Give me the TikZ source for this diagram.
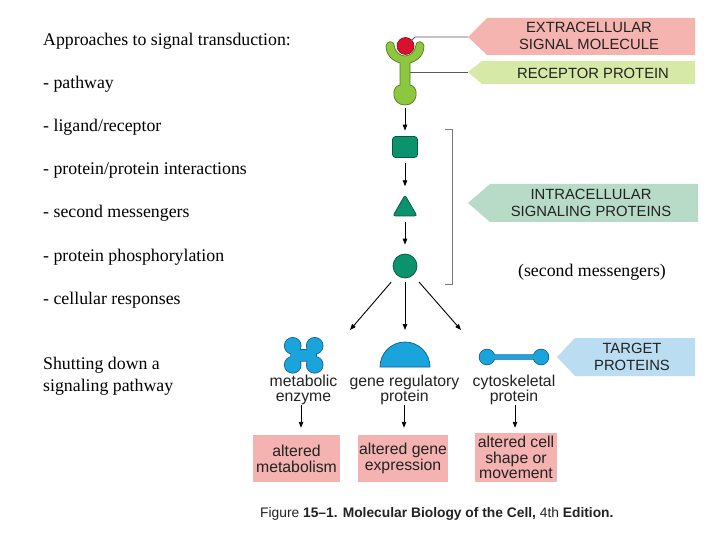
\documentclass[tikz,border=0pt]{standalone}
\usepackage{fontspec}
\setmainfont{Liberation Serif}
\setsansfont{Liberation Sans}
\usetikzlibrary{arrows.meta,shapes.geometric}
\definecolor{exred}{HTML}{F5B4B0}
\definecolor{recgreen}{HTML}{D6E9A6}
\definecolor{intgreen}{HTML}{B7DBC7}
\definecolor{tgtblue}{HTML}{BBDDF2}
\definecolor{boxpink}{HTML}{F4B3B1}
\definecolor{rfill}{HTML}{8DC63F}
\definecolor{rline}{HTML}{4E7D22}
\definecolor{ligred}{HTML}{D9112D}
\definecolor{ligline}{HTML}{8A0A18}
\definecolor{sigteal}{HTML}{0A936C}
\definecolor{sigtealline}{HTML}{05573F}
\definecolor{pblue}{HTML}{1BA3DC}
\definecolor{pbline}{HTML}{0E5E8A}
\definecolor{linegray}{HTML}{5A5A5A}
\definecolor{labtext}{HTML}{222222}
\begin{document}
\begin{tikzpicture}[x=1pt,y=-1pt,
  arr/.style={-{Triangle[length=6pt,width=4.5pt]}, line width=0.9pt, black},
  conn/.style={draw=linegray, line width=0.9pt},
  lefttxt/.style={anchor=base west, inner sep=0pt, font=\fontsize{17.8}{20}\selectfont},
  caplab/.style={inner sep=0pt, align=center, text=labtext, font=\sffamily\fontsize{14.8}{16.6}\selectfont},
  protlab/.style={inner sep=0pt, align=center, text=labtext, font=\sffamily\fontsize{15.8}{15.7}\selectfont},
  respbox/.style={fill=boxpink, inner sep=0pt, align=center, text=labtext, font=\sffamily\fontsize{15.8}{15.7}\selectfont},
  tealshape/.style={fill=sigteal, draw=sigtealline, line width=0.7pt},
]
\useasboundingbox (0,0) rectangle (720,540);
\fill[white] (0,0) rectangle (720,540);

% ---- left text ----
\node[lefttxt] (t1) at (43,46) {Approaches to signal transduction:};
\node[lefttxt] (t2) at (43,89) {- pathway};
\node[lefttxt] (t3) at (43,132) {- ligand/receptor};
\node[lefttxt] (t4) at (43,175) {- protein/protein interactions};
\node[lefttxt] (t5) at (43,218) {- second messengers};
\node[lefttxt] (t6) at (43,261) {- protein phosphorylation};
\node[lefttxt] (t7) at (43,304) {- cellular responses};
\node[lefttxt] (t8) at (43,369) {Shutting down a};
\node[lefttxt] (t9) at (43,391) {signaling pathway};

% ---- pointer labels ----
\fill[exred] (468,37) -- (487,18) -- (695,18) -- (695,55) -- (487,55) -- cycle;
\coordinate (exTip) at (468,37);
\node[caplab] (exT) at (589,36) {EXTRACELLULAR\\SIGNAL MOLECULE};

\fill[recgreen] (468,72) -- (482,61) -- (695,61) -- (695,84) -- (482,84) -- cycle;
\coordinate (recTip) at (468,72);
\node[caplab] (recT) at (593,73) {RECEPTOR PROTEIN};

\fill[intgreen] (468,203) -- (490,184) -- (698,184) -- (698,222) -- (490,222) -- cycle;
\coordinate (intTip) at (468,203);
\node[caplab] (intT) at (591,203) {INTRACELLULAR\\SIGNALING PROTEINS};

\fill[tgtblue] (557,357) -- (575,338) -- (695,338) -- (695,376) -- (575,376) -- cycle;
\coordinate (tgtTip) at (557,357);
\node[caplab] (tgtT) at (632,357) {TARGET\\PROTEINS};

% ---- receptor ----
\draw[fill=rfill, draw=rline, line width=0.7pt]
  (400,63) .. controls (390,60) and (386,53) .. (386,46)
  .. controls (386,41) and (394,40) .. (394,45)
  .. controls (395,52) and (400,56) .. (405,56)
  .. controls (410,56) and (415,52) .. (416,45)
  .. controls (416,40) and (424,41) .. (424,46)
  .. controls (424,53) and (420,60) .. (410,63)
  -- (410,85)
  .. controls (419,86) and (419,105) .. (405,105)
  .. controls (391,105) and (391,86) .. (400,85) -- cycle;
\coordinate (recB) at (405,105);
\coordinate (recA) at (410,72);
\node[circle, fill=ligred, draw=ligline, line width=0.6pt, minimum size=17pt, inner sep=0pt] (lig) at (405.5,46) {};
\coordinate (ligA) at (411,41);

\draw[conn] (ligA) -- ++(4,-4) -- (exTip);
\draw[conn] (recA) -- (recTip);

% ---- intracellular signalling proteins ----
\node[tealshape, rectangle, rounded corners=3pt, minimum width=25pt, minimum height=21pt, inner sep=0pt] (sq) at (405,147) {};
\node[tealshape, regular polygon, regular polygon sides=3, minimum size=28pt, inner sep=0pt, rounded corners=2.5pt] (tri) at (405,209) {};
\node[tealshape, circle, minimum size=24pt, inner sep=0pt] (circ) at (405,266) {};

\draw[arr, shorten <=3pt, shorten >=5.5pt] (recB) -- (sq);
\draw[arr, shorten <=5.5pt, shorten >=8pt] (sq) -- (tri);
\draw[arr, shorten <=6pt, shorten >=9pt] (tri) -- (circ);

% bracket
\coordinate (brT) at (445,129);
\coordinate (brB) at (445,284);
\draw[draw=linegray!80, line width=0.8pt] (brT) -- ++(7,0) |- (brB);

\node[inner sep=0pt, font=\fontsize{17.8}{20}\selectfont] (sm) at (592,272) {(second messengers)};

% ---- arrows to targets ----
\coordinate (tL) at (350,330);
\coordinate (tM) at (405,330);
\coordinate (tR) at (461,330);
\draw[arr, shorten <=9pt] (circ) -- (tL);
\draw[arr, shorten <=4pt] (circ) -- (tM);
\draw[arr, shorten <=9pt] (circ) -- (tR);

% ---- target proteins ----
% metabolic enzyme (four-lobed)
\begin{scope}[shift={(303.7,355.3)}]
  \foreach \pass in {1,2}{
    \ifnum\pass=1
      \tikzset{cur/.style={fill=pbline, draw=pbline, line width=1.5pt}}
    \else
      \tikzset{cur/.style={fill=pblue}}
    \fi
    \path[cur] (-11,-9.5) circle (8pt) (11,-9.5) circle (8pt)
               (-11,9.5) circle (8pt) (11,9.5) circle (8pt)
               (-12.5,-5.5) rectangle (12.5,5.5);
    \path[cur] (-7.5,-9.5) -- (9.5,7.5) -- (7.5,9.5) -- (-9.5,-7.5) -- cycle
               (7.5,-9.5) -- (-9.5,7.5) -- (-7.5,9.5) -- (9.5,-7.5) -- cycle;
  }
\end{scope}
\coordinate (enz) at (303.7,355.3);
% gene regulatory protein (half disc)
\draw[fill=pblue, draw=pbline, line width=0.7pt] (430,367) arc[start angle=0, end angle=180, radius=25pt] -- cycle;
\coordinate (gen) at (405,355);
% cytoskeletal (dumbbell)
\foreach \pass in {1,2}{
  \ifnum\pass=1
    \tikzset{cur/.style={fill=pbline, draw=pbline, line width=1.4pt}}
  \else
    \tikzset{cur/.style={fill=pblue}}
  \fi
  \path[cur] (487,357) circle (7.5pt) (541,357) circle (7.5pt) (487,355) rectangle (541,359);
}
\coordinate (cyt) at (514,357);

\node[protlab] (me) at (303.5,390) {metabolic\\enzyme};
\node[protlab] (gr) at (404.5,390) {gene regulatory\\protein};
\node[protlab] (cs) at (514,390) {cytoskeletal\\protein};

% ---- responses ----
\node[respbox, minimum width=87pt, minimum height=47pt] (b1) at (296.5,458.5) {altered\\metabolism};
\node[respbox, minimum width=90pt, minimum height=47pt] (b2) at (403,458.5) {altered gene\\expression};
\node[respbox, minimum width=82pt, minimum height=49pt] (b3) at (516,457.5) {altered cell\\shape or\\movement};

\coordinate (a1) at (301,405);
\coordinate (a2) at (404,405);
\coordinate (a3) at (515,405);
\draw[arr, shorten >=7pt] (a1) -- (a1 |- b1.north);
\draw[arr, shorten >=7pt] (a2) -- (a2 |- b2.north);
\draw[arr, shorten >=5pt] (a3) -- (a3 |- b3.north);

% ---- caption ----
\node[anchor=west, inner sep=0pt, text=labtext, font=\sffamily\fontsize{13.8}{16}\selectfont] (cap) at (260,514)
  {Figure \textbf{15–1. Molecular Biology of the Cell,} 4th \textbf{Edition.}};
\end{tikzpicture}
\end{document}
